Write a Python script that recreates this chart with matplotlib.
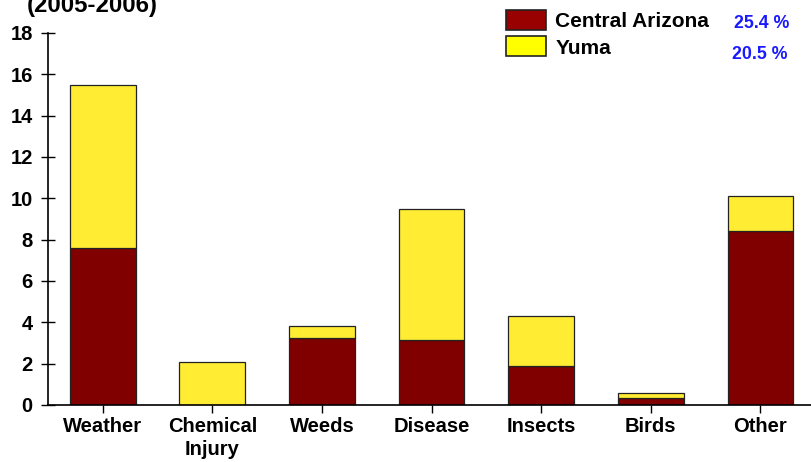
import matplotlib.pyplot as plt
import numpy as np
from matplotlib.patches import Patch

plt.rcParams['font.family'] = ['Liberation Sans', 'DejaVu Sans']
plt.rcParams['font.weight'] = 'bold'

# Datos: pérdidas por causa y región
categorias = ['Weather', 'Chemical\nInjury', 'Weeds', 'Disease', 'Insects', 'Birds', 'Other']
central_arizona = [7.6, 0.0, 3.25, 3.15, 1.9, 0.35, 8.4]
yuma = [7.9, 2.1, 0.55, 6.35, 2.4, 0.25, 1.7]
series = ['Central Arizona', 'Yuma']
porcentajes = ['25.4 %', '20.5 %']

color_central = '#800000'
color_yuma = '#ffec33'

fig = plt.figure(figsize=(8.12, 4.62), dpi=100)
ax = fig.add_axes([0.059, 0.1234, 0.945, 0.8052])

x = np.arange(len(categorias))
ancho = 0.6
ax.bar(x, central_arizona, ancho, color=color_central, edgecolor='#222222', linewidth=0.9)
ax.bar(x, yuma, ancho, bottom=central_arizona, color=color_yuma, edgecolor='#222222', linewidth=0.9)

ax.set_xlim(-0.5, 6.5)
ax.set_ylim(0, 18)
ax.set_yticks(np.arange(0, 19, 2))
ax.set_xticks(x)
ax.set_xticklabels(categorias, fontsize=14.5, fontweight='bold', linespacing=1.25)
ax.tick_params(axis='y', direction='inout', length=10, width=1, pad=6, labelsize=14.5)
ax.tick_params(axis='x', direction='out', length=6, width=1, pad=3)

for lado in ['top', 'right']:
    ax.spines[lado].set_visible(False)
for lado in ['left', 'bottom']:
    ax.spines[lado].set_linewidth(1.2)

# Título (recortado arriba)
fig.text(0.033, 0.974, '(2005-2006)', fontsize=17.3, fontweight='bold', ha='left', va='baseline')

# Leyenda con porcentajes
handles = [Patch(facecolor='#990000', edgecolor='#222222', linewidth=1.2),
           Patch(facecolor='#ffff00', edgecolor='#222222', linewidth=1.2)]
fig.legend(handles, series, loc='upper left', bbox_to_anchor=(0.608, 1.005),
           frameon=False, fontsize=15, handlelength=1.9, handleheight=1.1,
           labelspacing=0.25, handletextpad=0.45, borderaxespad=0.2)
fig.text(0.938, 0.949, porcentajes[0], color='#1a1aff', fontsize=12.8, fontweight='bold', ha='center', va='center')
fig.text(0.9355, 0.883, porcentajes[1], color='#1a1aff', fontsize=12.8, fontweight='bold', ha='center', va='center')

fig.savefig('out.png', dpi=100)
